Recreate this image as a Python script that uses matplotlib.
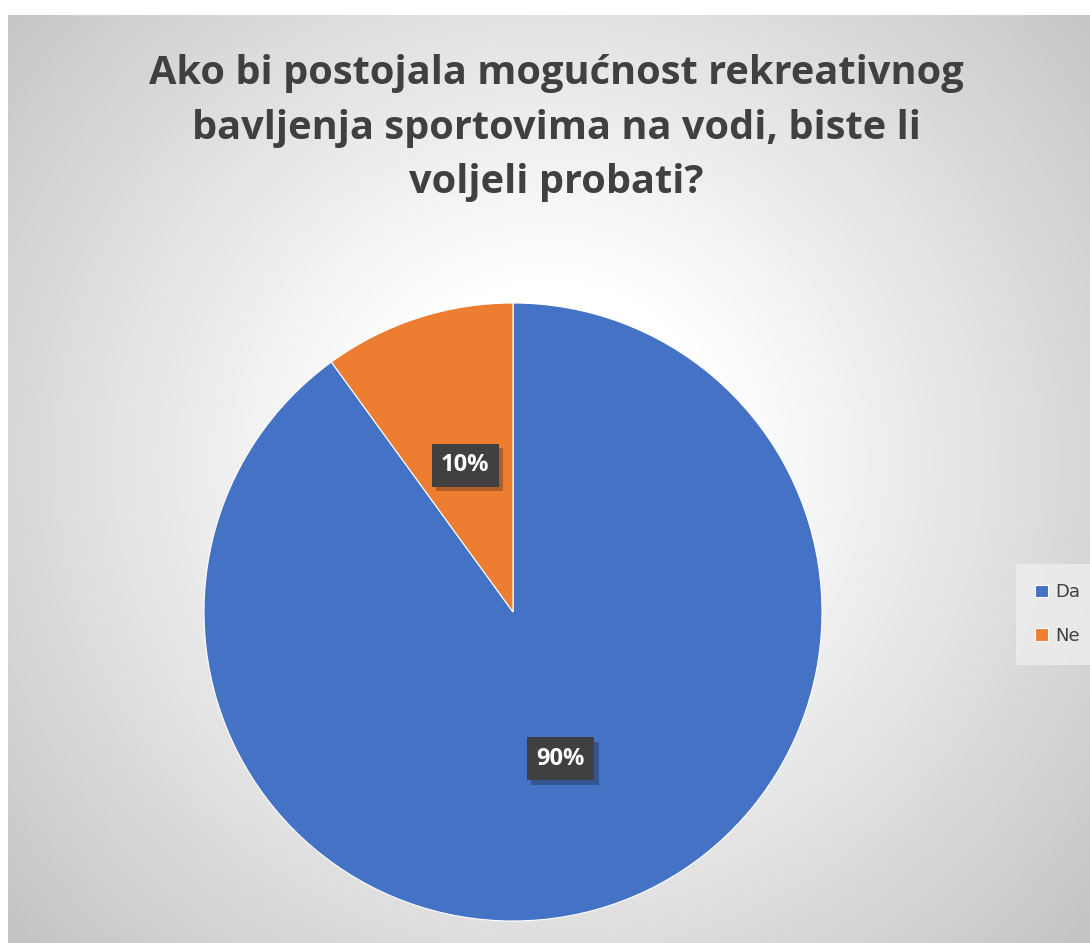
import numpy as np
import matplotlib.pyplot as plt
import matplotlib.patheffects as pe

categories = ['Da', 'Ne']
values = [90, 10]
colors = ['#4472C4', '#ED7D31']
title = 'Ako bi postojala mogućnost rekreativnog\nbavljenja sportovima na vodi, biste li\nvoljeli probati?'

W, H = 1090, 943
fig = plt.figure(figsize=(W / 100, H / 100), dpi=100)

# radial gradient background of the chart area
bg = fig.add_axes([8 / W, 0, 1 - 8 / W, 1 - 15 / H])
yy, xx = np.mgrid[15:H, 8:W]
r = np.hypot(xx - 548, yy - 460)
shade = np.clip(1.0 - (r - 180) / 560 * 0.24, 0.76, 1.0)
img = np.dstack([shade, shade, shade])
bg.imshow(img, aspect='auto', interpolation='bilinear')
bg.set_axis_off()

# pie
cx, cy, rad = 513, H - 612, 309
ax = fig.add_axes([(cx - rad) / W, (cy - rad) / H, 2 * rad / W, 2 * rad / H])
wedges, texts, autotexts = ax.pie(
    values, colors=colors, startangle=90, counterclock=False,
    autopct='%1.0f%%', pctdistance=0.5, radius=1,
    wedgeprops=dict(edgecolor='white', linewidth=0.8),
    textprops=dict(color='white', fontsize=17, fontweight='bold', family='Open Sans'))
for t in autotexts:
    t.set_bbox(dict(boxstyle='square,pad=0.4', facecolor='#404040', edgecolor='none'))
    t.get_bbox_patch().set_path_effects([
        pe.SimplePatchShadow(offset=(3, -3), shadow_rgbFace='black', alpha=0.25), pe.Normal()])
ax.set_xlim(-1, 1)
ax.set_ylim(-1, 1)
ax.set_axis_off()

fig.text(556 / W, 1 - 54 / H, title, ha='center', va='top', fontsize=28.6,
         fontweight='bold', color='#404040', family='Open Sans', linespacing=1.52)

leg = fig.legend(wedges, categories, loc='center left', bbox_to_anchor=(1012 / W, 1 - 614 / H),
                 frameon=True, fontsize=13, handlelength=0.7, handleheight=0.7,
                 labelspacing=1.4, borderpad=0.8, handletextpad=0.4)
leg.get_frame().set_facecolor('#eeeeee')
leg.get_frame().set_edgecolor('none')
leg.get_frame().set_alpha(0.8)
leg.get_frame().set_boxstyle('square')
for t in leg.get_texts():
    t.set_color('#404040')

fig.savefig('out.png', dpi=100)
